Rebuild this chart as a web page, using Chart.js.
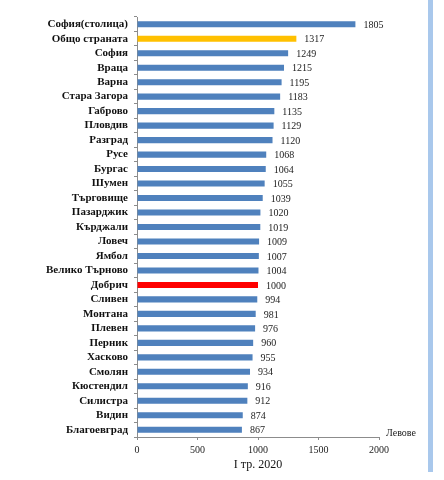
<!DOCTYPE html>
<html lang="bg">
<head>
<meta charset="UTF-8">
<title>I тр. 2020</title>
<style>
  html, body { margin: 0; padding: 0; background: #fff; }
  .wrap { position: relative; width: 444px; height: 480px; }
  .side { position: absolute; left: 428px; top: 0; width: 5px; height: 472px; background: #a9c8ec; }
</style>
</head>
<body>
<div class="wrap">
  <canvas id="myChart" width="444" height="480"></canvas>
  <div class="side"></div>
</div>

<script src="https://cdn.jsdelivr.net/npm/chart.js"></script>
<script>
  const regions = [
    'София(столица)', 'Общо страната', 'София', 'Враца', 'Варна', 'Стара Загора',
    'Габрово', 'Пловдив', 'Разград', 'Русе', 'Бургас', 'Шумен', 'Търговище',
    'Пазарджик', 'Кърджали', 'Ловеч', 'Ямбол', 'Велико Търново', 'Добрич',
    'Сливен', 'Монтана', 'Плевен', 'Перник', 'Хасково', 'Смолян', 'Кюстендил',
    'Силистра', 'Видин', 'Благоевград'
  ];
  const wages = [
    1805, 1317, 1249, 1215, 1195, 1183, 1135, 1129, 1120, 1068, 1064, 1055, 1039,
    1020, 1019, 1009, 1007, 1004, 1000, 994, 981, 976, 960, 955, 934, 916, 912, 874, 867
  ];
  const xTicks = [0, 500, 1000, 1500, 2000];
  const unitLabel = 'Левове';
  const periodLabel = 'I тр. 2020';

  // общо страната - жълто, Добрич - червено, останалите сини
  const barColors = regions.map(function (r) {
    if (r === 'Общо страната') return '#ffc000';
    if (r === 'Добрич') return '#ff0000';
    return '#4f81bd';
  });

  const serif = '"Liberation Serif", "DejaVu Serif", serif';

  const valueLabels = {
    id: 'valueLabels',
    afterDatasetsDraw(chart) {
      const ctx = chart.ctx;
      const meta = chart.getDatasetMeta(0);
      ctx.save();
      ctx.font = '10px ' + serif;
      ctx.fillStyle = '#222';
      ctx.textAlign = 'left';
      ctx.textBaseline = 'middle';
      meta.data.forEach(function (bar, i) {
        ctx.fillText(String(wages[i]), bar.x + 8, bar.y + 1);
      });
      // мерна единица в края на оста
      const xs = chart.scales.x;
      ctx.font = '10px ' + serif;
      ctx.textBaseline = 'alphabetic';
      ctx.fillText(unitLabel, xs.right + 7, xs.top - 1);
      ctx.restore();
    }
  };

  const config = {
    type: 'bar',
    data: {
      labels: regions,
      datasets: [{
        data: wages,
        backgroundColor: barColors,
        barPercentage: 0.42,
        categoryPercentage: 1
      }]
    },
    options: {
      indexAxis: 'y',
      responsive: false,
      animation: false,
      layout: { padding: { top: 17, right: 65, bottom: 8, left: 0 } },
      plugins: {
        legend: { display: false },
        tooltip: { enabled: false }
      },
      scales: {
        y: {
          afterFit: function (scale) { scale.width = 137; },
          grid: { drawOnChartArea: false, tickLength: 3, color: '#8c8c8c' },
          border: { color: '#8c8c8c' },
          ticks: {
            autoSkip: false,
            color: '#111',
            font: { family: serif, size: 11, weight: 'bold' },
            padding: 6
          }
        },
        x: {
          min: 0,
          max: 2000,
          afterBuildTicks: function (scale) {
            scale.ticks = xTicks.map(function (v) { return { value: v }; });
          },
          afterFit: function (scale) { scale.height = 35; },
          grid: { drawOnChartArea: false, tickLength: 3, color: '#8c8c8c' },
          border: { color: '#8c8c8c' },
          ticks: {
            color: '#222',
            font: { family: serif, size: 10 },
            padding: 4,
            callback: function (v) { return String(v); }
          },
          title: {
            display: true,
            text: periodLabel,
            color: '#111',
            font: { family: serif, size: 12 },
            padding: { top: 0, bottom: 0 }
          }
        }
      }
    },
    plugins: [valueLabels]
  };

  const myChart = new Chart(document.getElementById('myChart'), config);
</script>
</body>
</html>
